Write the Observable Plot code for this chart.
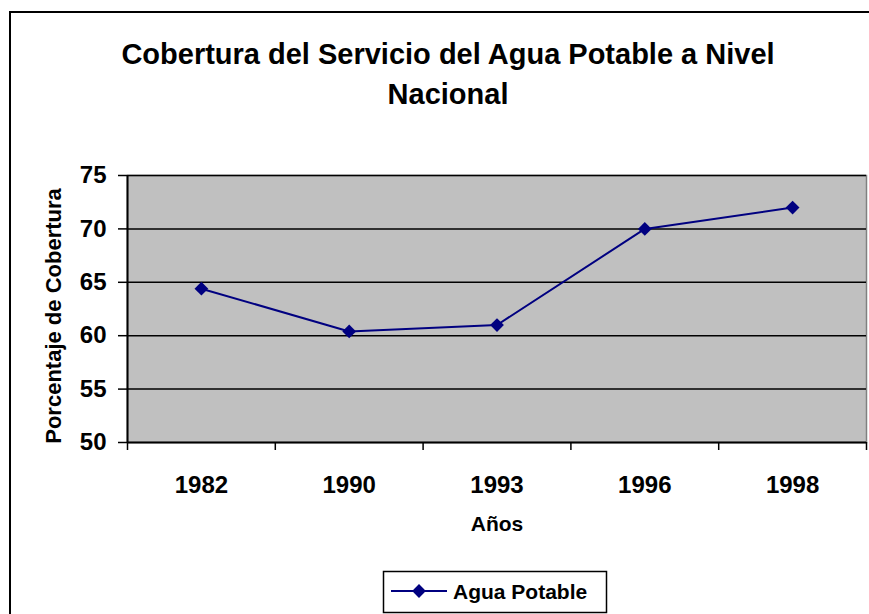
<!DOCTYPE html>
<html><head><meta charset="utf-8">
<script src="https://cdn.jsdelivr.net/npm/d3@7"></script>
<script src="https://cdn.jsdelivr.net/npm/@observablehq/plot@0.6"></script>
<style>
body{margin:0;background:#fff}
#c{position:relative;width:869px;height:614px;overflow:hidden}
</style>
</head><body><div id="c"></div>
<script>
const years = ["1982", "1990", "1993", "1996", "1998"];
const coverage = [64.4, 60.4, 61.0, 70.0, 72.0];
const yTicks = [50, 55, 60, 65, 70, 75];
const gridValues = [55, 60, 65, 70, 75];
const titleLines = ["Cobertura del Servicio del Agua Potable a Nivel", "Nacional"];
const seriesName = "Agua Potable";
const xTitle = "Años";
const yTitle = "Porcentaje de Cobertura";

const data = years.map((y, i) => ({i, year: y, value: coverage[i]}));
const boundaries = d3.range(-0.5, years.length, 1);
const FONT = "'Liberation Sans', Arial, sans-serif";
const NAVY = "#000080";

const chart = Plot.plot({
  width: 869, height: 614,
  marginLeft: 127, marginRight: 3, marginTop: 175, marginBottom: 172,
  style: {fontFamily: FONT, fontWeight: "bold", color: "#000", background: "transparent", overflow: "visible"},
  x: {type: "linear", domain: [-0.5, years.length - 0.5]},
  y: {domain: [50, 75]},
  marks: [
    Plot.frame({fill: "#C0C0C0", stroke: "#808080", strokeWidth: 1.5}),
    Plot.ruleY(gridValues, {stroke: "#000", strokeWidth: 1.5}),
    Plot.ruleX([-0.5], {stroke: "#000", strokeWidth: 2}),
    Plot.ruleY([50], {stroke: "#000", strokeWidth: 2}),
    Plot.axisY({ticks: yTicks, tickSize: 9, tickPadding: 12, fontSize: 24, label: null, stroke: "#000", strokeWidth: 1.5, tickFormat: d => String(d)}),
    Plot.axisX({ticks: boundaries, tickSize: 8, tickFormat: () => "", label: null, stroke: "#000", strokeWidth: 1.5}),
    Plot.axisX({ticks: d3.range(years.length), tickSize: 0, tickPadding: 33, tickFormat: i => years[i], fontSize: 24, label: null}),
    Plot.line(data, {x: "i", y: "value", stroke: NAVY, strokeWidth: 2}),
    Plot.dot(data, {x: "i", y: "value", symbol: "diamond2", r: 6.2, fill: NAVY, stroke: "none"}),
    Plot.text([xTitle], {frameAnchor: "bottom", dy: 88, fontSize: 21, fontWeight: "bold"}),
    Plot.text([yTitle], {frameAnchor: "left", textAnchor: "middle", rotate: -90, dx: -74, dy: 7, fontSize: 22, fontWeight: "bold"}),
    Plot.text([titleLines.join("\n")], {frameAnchor: "top", lineAnchor: "top", dx: -49, dy: -140, lineHeight: 40 / 29, fontSize: 29, fontWeight: "bold"})
  ]
});

const svg = d3.select(chart);
// outer chart border
svg.insert("rect", ":first-child")
  .attr("x", 10).attr("y", 12).attr("width", 900).attr("height", 700)
  .attr("fill", "#fff").attr("stroke", "#000").attr("stroke-width", 2);

// legend
const lg = svg.append("g").attr("font-family", FONT).attr("font-weight", "bold");
lg.append("rect").attr("x", 383.5).attr("y", 571.5).attr("width", 223).attr("height", 41)
  .attr("fill", "#fff").attr("stroke", "#000").attr("stroke-width", 1.5);
lg.append("line").attr("x1", 391).attr("x2", 447).attr("y1", 591).attr("y2", 591)
  .attr("stroke", NAVY).attr("stroke-width", 2);
lg.append("path").attr("d", d3.symbol(d3.symbolDiamond2, Math.PI * 6.2 * 6.2)())
  .attr("transform", "translate(419,591)").attr("fill", NAVY);
lg.append("text").attr("x", 453).attr("y", 599).attr("text-anchor", "start")
  .attr("font-size", 21).attr("fill", "#000").text(seriesName);

document.getElementById("c").appendChild(chart);
</script>
</body></html>
